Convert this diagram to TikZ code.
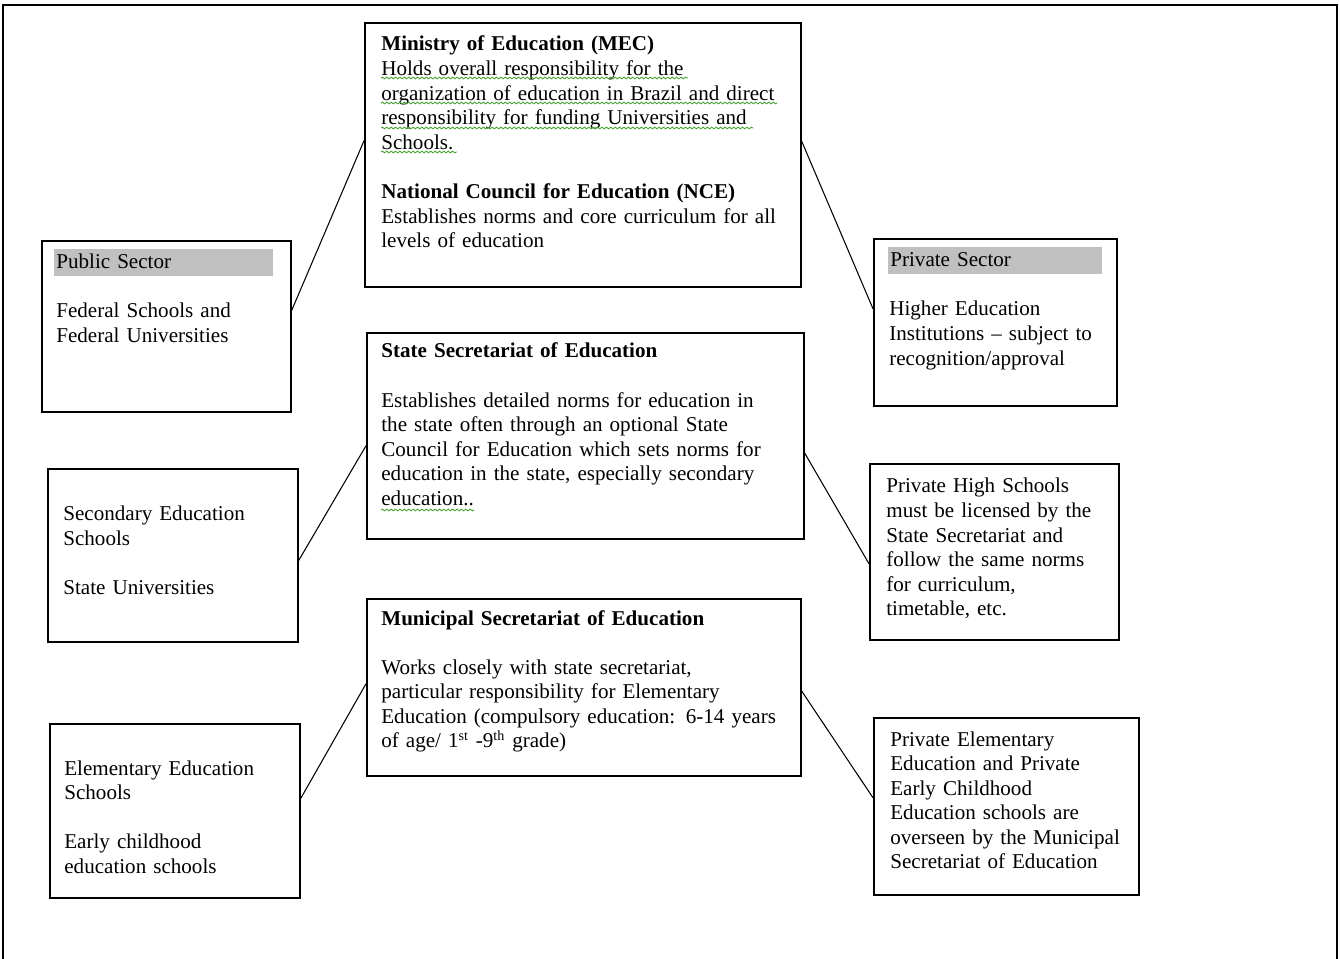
\documentclass[tikz,border=0pt]{standalone}
\usepackage{fontspec}
\setmainfont{Liberation Serif}
\usepackage{tikz}
\usetikzlibrary{positioning}
\usetikzlibrary{decorations.pathmorphing}
\definecolor{barGray}{RGB}{192,192,192}
\definecolor{checkGreen}{RGB}{70,165,50}
\tikzstyle{box} = [rectangle, draw=black, line width=0.9pt, anchor=north west, inner sep=0pt]
\tikzstyle{txt} = [anchor=base west, inner sep=0pt, align=left, text width=8.6cm, font=\fontsize{12pt}{14pt}\selectfont]
\tikzstyle{sidetxt} = [txt, text width=5cm]
\tikzstyle{head} = [sidetxt, anchor=north west, fill=barGray, inner xsep=0.04cm, minimum height=0.54cm, text depth=2pt]
\tikzstyle{link} = [line width=0.6pt]
\tikzstyle{squiggle} = [draw=checkGreen, line width=0.5pt, decorate, decoration={snake, amplitude=0.5pt, segment length=2.5pt}]

\begin{document}
\begin{tikzpicture}[x=0.02cm, y=-0.02cm]

  \useasboundingbox (0,0) rectangle (1340,959);

  % page frame, open at the bottom
  \draw[line width=1.1pt] (3,959) -- (3,5) -- (1337,5) -- (1337,959);

  % Centre column
  \node[box, minimum width=8.72cm, minimum height=5.28cm] (mec) at (364,22) {};
  \node[box, minimum width=8.74cm, minimum height=4.12cm] (state) at (366,332) {};
  \node[box, minimum width=8.68cm, minimum height=3.54cm] (muni) at (366,598) {};

  \node[txt] (mectext) at (381,51) {\textbf{Ministry of Education (MEC)}\\
    Holds overall responsibility for the\\
    organization of education in Brazil and direct\\
    responsibility for funding Universities and\\
    Schools.\\[14pt]
    \textbf{National Council for Education (NCE)}\\
    Establishes norms and core curriculum for all\\
    levels of education};
  \draw[squiggle] (381,78) -- (688,78);
  \draw[squiggle] (381,103) -- (777,103);
  \draw[squiggle] (381,128) -- (753,128);
  \draw[squiggle] (381,152) -- (457,152);

  \node[txt] (statetext) at (381,358) {\textbf{State Secretariat  of Education}\\[14pt]
    Establishes detailed norms for education in\\
    the state often through an optional State\\
    Council for Education which sets norms for\\
    education in the state, especially secondary\\
    education..};
  \draw[squiggle] (381,510) -- (474,510);

  \node[txt] (munitext) at (381,625) {\textbf{Municipal Secretariat of Education}\\[14pt]
    Works closely with state secretariat,\\
    particular responsibility for Elementary\\
    Education (compulsory education: 6-14 years\\
    of age/ 1\textsuperscript{st} -9\textsuperscript{th} grade)};

  % Public sector
  \node[box, minimum width=4.98cm, minimum height=3.42cm] (pub) at (41,240) {};
  \node[head, text width=4.3cm] (pubhead) at (54,249) {Public Sector};
  \node[sidetxt] (pubtext) at (56,318) {Federal Schools and\\ Federal Universities};

  \node[box, minimum width=5.0cm, minimum height=3.46cm] (sec) at (47,468) {};
  \node[sidetxt] (sectext) at (63,521) {Secondary Education\\ Schools\\[14pt] State Universities};

  \node[box, minimum width=5.0cm, minimum height=3.48cm] (elem) at (49,723) {};
  \node[sidetxt] (elemtext) at (64,775) {Elementary Education\\ Schools\\[14pt]
    Early childhood\\ education schools};

  % Private sector
  \node[box, minimum width=4.86cm, minimum height=3.34cm] (priv) at (873,238) {};
  \node[head, text width=4.2cm] (privhead) at (888,247) {Private Sector};
  \node[sidetxt] (privtext) at (889,316) {Higher Education\\
    Institutions -- subject to\\ recognition/approval};

  \node[box, minimum width=4.98cm, minimum height=3.52cm] (phigh) at (869,463) {};
  \node[sidetxt] (phightext) at (886,493) {Private High Schools\\
    must be licensed by the\\ State Secretariat  and\\ follow the same norms\\
    for curriculum,\\ timetable, etc.};

  \node[box, minimum width=5.3cm, minimum height=3.54cm] (pelem) at (873,717) {};
  \node[sidetxt] (pelemtext) at (890,746) {Private Elementary\\
    Education and Private\\ Early Childhood\\ Education schools are\\
    overseen by the Municipal\\ Secretariat of Education};

  % links
  \draw[link] ([yshift=0.31cm]pub.east) -- ([yshift=0.28cm]mec.west);
  \draw[link] ([yshift=0.28cm]mec.east) -- ([yshift=0.27cm]priv.west);
  \draw[link] ([yshift=-0.11cm]sec.east) -- ([yshift=-0.2cm]state.west);
  \draw[link] ([yshift=-0.34cm]state.east) -- ([yshift=-0.24cm]phigh.west);
  \draw[link] ([yshift=0.24cm]elem.east) -- ([yshift=0.07cm]muni.west);
  \draw[link] ([yshift=-0.07cm]muni.east) -- ([yshift=0.17cm]pelem.west);

\end{tikzpicture}
\end{document}
